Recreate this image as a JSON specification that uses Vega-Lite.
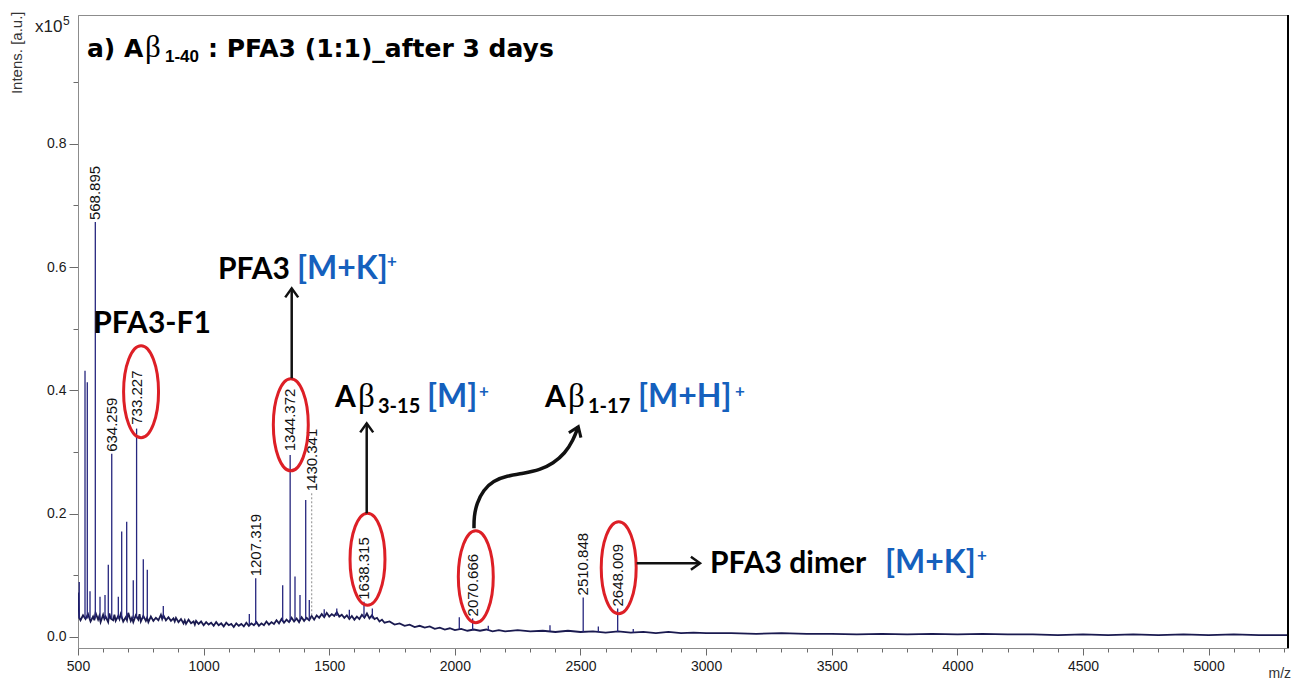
{
  "$schema": "https://vega.github.io/schema/vega-lite/v6.json",
  "width": 1210,
  "height": 633,
  "autosize": "none",
  "padding": {"left": 78, "top": 15, "right": 7, "bottom": 31},
  "background": "white",
  "config": {
    "view": {"stroke": "#8c8c8c", "strokeWidth": 1},
    "axis": {"grid": false, "labelFont": "Liberation Sans", "labelFontSize": 14, "labelColor": "#1a1a1a", "domainColor": "#8c8c8c", "tickColor": "#6a6a6a", "titleFont": "Liberation Sans", "titleFontWeight": "normal", "titleColor": "#333333"}
  },
  "datasets": {
    "baseline": [
      {"mz": 500, "I": 0.072}, {"mz": 505, "I": 0.031}, {"mz": 510, "I": 0.027}, {"mz": 520, "I": 0.035}, {"mz": 530, "I": 0.029}, {"mz": 540, "I": 0.037}, {"mz": 550, "I": 0.025}, {"mz": 560, "I": 0.033}, {"mz": 565, "I": 0.027}, {"mz": 570, "I": 0.039}, {"mz": 580, "I": 0.028}, {"mz": 585, "I": 0.034}, {"mz": 590, "I": 0.024}, {"mz": 600, "I": 0.036}, {"mz": 605, "I": 0.029}, {"mz": 610, "I": 0.033}, {"mz": 620, "I": 0.024}, {"mz": 625, "I": 0.038}, {"mz": 630, "I": 0.03}, {"mz": 640, "I": 0.027}, {"mz": 645, "I": 0.036}, {"mz": 650, "I": 0.026}, {"mz": 660, "I": 0.034}, {"mz": 665, "I": 0.029}, {"mz": 670, "I": 0.037}, {"mz": 680, "I": 0.025}, {"mz": 690, "I": 0.032}, {"mz": 695, "I": 0.027}, {"mz": 700, "I": 0.039}, {"mz": 710, "I": 0.026}, {"mz": 715, "I": 0.031}, {"mz": 720, "I": 0.024}, {"mz": 730, "I": 0.035}, {"mz": 740, "I": 0.028}, {"mz": 745, "I": 0.037}, {"mz": 750, "I": 0.025}, {"mz": 760, "I": 0.034}, {"mz": 770, "I": 0.026}, {"mz": 775, "I": 0.031}, {"mz": 780, "I": 0.024}, {"mz": 790, "I": 0.033}, {"mz": 800, "I": 0.026},
      {"mz": 810, "I": 0.031}, {"mz": 820, "I": 0.027}, {"mz": 830, "I": 0.036}, {"mz": 835, "I": 0.029}, {"mz": 840, "I": 0.035}, {"mz": 850, "I": 0.027}, {"mz": 860, "I": 0.032}, {"mz": 870, "I": 0.026}, {"mz": 880, "I": 0.03}, {"mz": 885, "I": 0.025}, {"mz": 890, "I": 0.031}, {"mz": 900, "I": 0.024}, {"mz": 910, "I": 0.029}, {"mz": 920, "I": 0.022}, {"mz": 925, "I": 0.027}, {"mz": 930, "I": 0.021}, {"mz": 940, "I": 0.028}, {"mz": 950, "I": 0.022}, {"mz": 960, "I": 0.025}, {"mz": 965, "I": 0.02}, {"mz": 970, "I": 0.026}, {"mz": 980, "I": 0.021}, {"mz": 990, "I": 0.025}, {"mz": 1000, "I": 0.019},
      {"mz": 1010, "I": 0.024}, {"mz": 1020, "I": 0.02}, {"mz": 1030, "I": 0.023}, {"mz": 1040, "I": 0.018}, {"mz": 1050, "I": 0.024}, {"mz": 1060, "I": 0.019}, {"mz": 1070, "I": 0.022}, {"mz": 1080, "I": 0.017}, {"mz": 1090, "I": 0.023}, {"mz": 1100, "I": 0.019}, {"mz": 1110, "I": 0.021}, {"mz": 1120, "I": 0.016}, {"mz": 1130, "I": 0.022}, {"mz": 1140, "I": 0.018}, {"mz": 1150, "I": 0.021}, {"mz": 1160, "I": 0.017}, {"mz": 1170, "I": 0.023}, {"mz": 1180, "I": 0.018}, {"mz": 1190, "I": 0.022}, {"mz": 1200, "I": 0.019}, {"mz": 1210, "I": 0.024}, {"mz": 1220, "I": 0.018}, {"mz": 1230, "I": 0.022}, {"mz": 1240, "I": 0.019}, {"mz": 1250, "I": 0.025}, {"mz": 1260, "I": 0.02}, {"mz": 1270, "I": 0.024}, {"mz": 1280, "I": 0.021}, {"mz": 1290, "I": 0.027}, {"mz": 1300, "I": 0.022}, {"mz": 1310, "I": 0.029}, {"mz": 1320, "I": 0.023}, {"mz": 1330, "I": 0.028}, {"mz": 1340, "I": 0.024}, {"mz": 1350, "I": 0.031}, {"mz": 1360, "I": 0.025}, {"mz": 1370, "I": 0.03}, {"mz": 1380, "I": 0.024}, {"mz": 1390, "I": 0.032}, {"mz": 1400, "I": 0.026}, {"mz": 1410, "I": 0.031}, {"mz": 1420, "I": 0.027}, {"mz": 1430, "I": 0.034}, {"mz": 1440, "I": 0.028}, {"mz": 1450, "I": 0.035}, {"mz": 1460, "I": 0.031}, {"mz": 1470, "I": 0.037}, {"mz": 1480, "I": 0.032}, {"mz": 1490, "I": 0.039}, {"mz": 1500, "I": 0.033}, {"mz": 1510, "I": 0.037}, {"mz": 1520, "I": 0.034}, {"mz": 1530, "I": 0.04}, {"mz": 1540, "I": 0.033}, {"mz": 1550, "I": 0.036}, {"mz": 1560, "I": 0.031}, {"mz": 1570, "I": 0.035}, {"mz": 1580, "I": 0.029}, {"mz": 1590, "I": 0.034}, {"mz": 1600, "I": 0.028}, {"mz": 1610, "I": 0.033}, {"mz": 1620, "I": 0.029}, {"mz": 1630, "I": 0.036}, {"mz": 1640, "I": 0.031}, {"mz": 1650, "I": 0.038}, {"mz": 1660, "I": 0.03}, {"mz": 1670, "I": 0.035}, {"mz": 1680, "I": 0.029}, {"mz": 1690, "I": 0.031}, {"mz": 1700, "I": 0.025}, {"mz": 1710, "I": 0.028}, {"mz": 1720, "I": 0.023}, {"mz": 1740, "I": 0.025}, {"mz": 1760, "I": 0.02}, {"mz": 1780, "I": 0.022}, {"mz": 1800, "I": 0.018}, {"mz": 1820, "I": 0.02}, {"mz": 1840, "I": 0.016}, {"mz": 1860, "I": 0.018}, {"mz": 1880, "I": 0.015}, {"mz": 1900, "I": 0.017}, {"mz": 1920, "I": 0.013}, {"mz": 1940, "I": 0.015}, {"mz": 1960, "I": 0.012}, {"mz": 1980, "I": 0.014}, {"mz": 2000, "I": 0.011},
      {"mz": 2025, "I": 0.013}, {"mz": 2050, "I": 0.01}, {"mz": 2075, "I": 0.012}, {"mz": 2100, "I": 0.01}, {"mz": 2125, "I": 0.012}, {"mz": 2150, "I": 0.009}, {"mz": 2175, "I": 0.011}, {"mz": 2200, "I": 0.009}, {"mz": 2250, "I": 0.011}, {"mz": 2300, "I": 0.009}, {"mz": 2350, "I": 0.01}, {"mz": 2400, "I": 0.008}, {"mz": 2450, "I": 0.01}, {"mz": 2500, "I": 0.008}, {"mz": 2550, "I": 0.009}, {"mz": 2600, "I": 0.007}, {"mz": 2650, "I": 0.009}, {"mz": 2700, "I": 0.007}, {"mz": 2750, "I": 0.008}, {"mz": 2800, "I": 0.006}, {"mz": 2850, "I": 0.008}, {"mz": 2900, "I": 0.006}, {"mz": 2950, "I": 0.007}, {"mz": 3000, "I": 0.006},
      {"mz": 3100, "I": 0.006}, {"mz": 3200, "I": 0.005}, {"mz": 3300, "I": 0.006}, {"mz": 3400, "I": 0.005}, {"mz": 3500, "I": 0.005}, {"mz": 3600, "I": 0.004}, {"mz": 3700, "I": 0.005}, {"mz": 3800, "I": 0.004}, {"mz": 3900, "I": 0.005}, {"mz": 4000, "I": 0.004}, {"mz": 4100, "I": 0.005}, {"mz": 4200, "I": 0.004}, {"mz": 4300, "I": 0.004}, {"mz": 4400, "I": 0.003}, {"mz": 4500, "I": 0.004}, {"mz": 4600, "I": 0.003}, {"mz": 4700, "I": 0.004}, {"mz": 4800, "I": 0.003}, {"mz": 4900, "I": 0.004}, {"mz": 5000, "I": 0.003}, {"mz": 5100, "I": 0.004}, {"mz": 5200, "I": 0.003}, {"mz": 5316, "I": 0.003}
    ],
    "peaks": [
      {"mz": 505, "I": 0.089, "I0": 0.03}, {"mz": 527.9, "I": 0.432, "I0": 0.03}, {"mz": 537, "I": 0.413, "I0": 0.03}, {"mz": 547.8, "I": 0.074, "I0": 0.03}, {"mz": 568.9, "I": 0.673, "I0": 0.03}, {"mz": 587.6, "I": 0.065, "I0": 0.03}, {"mz": 607.5, "I": 0.068, "I0": 0.03}, {"mz": 620.6, "I": 0.117, "I0": 0.03}, {"mz": 634.3, "I": 0.297, "I0": 0.03}, {"mz": 660.5, "I": 0.065, "I0": 0.03}, {"mz": 673.9, "I": 0.171, "I0": 0.03}, {"mz": 693.8, "I": 0.187, "I0": 0.03}, {"mz": 720, "I": 0.092, "I0": 0.03}, {"mz": 733.2, "I": 0.338, "I0": 0.03}, {"mz": 759.9, "I": 0.126, "I0": 0.03}, {"mz": 775.8, "I": 0.109, "I0": 0.03}, {"mz": 839.5, "I": 0.05, "I0": 0.03},
      {"mz": 1181.9, "I": 0.037, "I0": 0.02}, {"mz": 1207.3, "I": 0.095, "I0": 0.02}, {"mz": 1314.7, "I": 0.084, "I0": 0.024}, {"mz": 1344.4, "I": 0.295, "I0": 0.025}, {"mz": 1363.7, "I": 0.098, "I0": 0.027}, {"mz": 1383.6, "I": 0.068, "I0": 0.027}, {"mz": 1406.3, "I": 0.222, "I0": 0.028}, {"mz": 1420.6, "I": 0.06, "I0": 0.028}, {"mz": 1480, "I": 0.045, "I0": 0.033}, {"mz": 1530, "I": 0.046, "I0": 0.034}, {"mz": 1580, "I": 0.044, "I0": 0.032}, {"mz": 1638.3, "I": 0.057, "I0": 0.032}, {"mz": 1671.5, "I": 0.046, "I0": 0.03},
      {"mz": 2017.6, "I": 0.032, "I0": 0.012}, {"mz": 2070.7, "I": 0.03, "I0": 0.011}, {"mz": 2133, "I": 0.018, "I0": 0.01}, {"mz": 2378.6, "I": 0.019, "I0": 0.009}, {"mz": 2510.8, "I": 0.064, "I0": 0.008}, {"mz": 2571, "I": 0.017, "I0": 0.008}, {"mz": 2648, "I": 0.046, "I0": 0.008}, {"mz": 2710, "I": 0.013, "I0": 0.007}
    ],
    "dotted": [{"mz": 1430.3, "I": 0.233, "I0": 0.03}],
    "labels": [
      {"mz": 568.9, "I": 0.673, "text": "568.895"}, {"mz": 634.3, "I": 0.297, "text": "634.259"}, {"mz": 733.2, "I": 0.341, "text": "733.227"}, {"mz": 1207.3, "I": 0.095, "text": "1207.319"}, {"mz": 1344.4, "I": 0.298, "text": "1344.372"}, {"mz": 1430.3, "I": 0.233, "text": "1430.341"}, {"mz": 1638.3, "I": 0.057, "text": "1638.315"}, {"mz": 2070.7, "I": 0.03, "text": "2070.666"}, {"mz": 2510.8, "I": 0.064, "text": "2510.848"}, {"mz": 2648, "I": 0.046, "text": "2648.009"}
    ],
    "ellipses": [
      {"mz": 751, "I": 0.3978}, {"mz": 1347, "I": 0.3441}, {"mz": 1652.3, "I": 0.1261}, {"mz": 2083.3, "I": 0.0977}, {"mz": 2652.1, "I": 0.1121}
    ],
    "arrows": [
      {"seg": "a", "k": 1, "mz": 1350.6, "I": 0.4196}, {"seg": "a", "k": 2, "mz": 1350.6, "I": 0.5656},
      {"seg": "b", "k": 1, "mz": 1649.1, "I": 0.2005}, {"seg": "b", "k": 2, "mz": 1649.1, "I": 0.3466},
      {"seg": "c", "k": 1, "mz": 2723.7, "I": 0.1194}, {"seg": "c", "k": 2, "mz": 2975.7, "I": 0.1194}
    ],
    "curve": [
      {"k": 1, "mz": 2076.1, "I": 0.1762}, {"k": 2, "mz": 2076.1, "I": 0.195}, {"k": 3, "mz": 2086.9, "I": 0.2168}, {"k": 4, "mz": 2113.2, "I": 0.2383}, {"k": 5, "mz": 2153, "I": 0.2534}, {"k": 6, "mz": 2206.3, "I": 0.2611}, {"k": 7, "mz": 2272.4, "I": 0.2654}, {"k": 8, "mz": 2338.8, "I": 0.2708}, {"k": 9, "mz": 2391.8, "I": 0.2817}, {"k": 10, "mz": 2438.3, "I": 0.2979}, {"k": 11, "mz": 2471.4, "I": 0.3195}, {"k": 12, "mz": 2491.3, "I": 0.341}
    ],
    "head_up": [{"mz": 1350.6, "I": 0.5656}, {"mz": 1649.1, "I": 0.3466}],
    "head_right": [{"mz": 2975.7, "I": 0.1194}],
    "head_tilt": [{"mz": 2491.3, "I": 0.341}],
    "ann_bold": [
      {"mz": 560.9, "I": 0.4926, "text": "PFA3-F1"}, {"mz": 1057.2, "I": 0.5807, "text": "PFA3"}, {"mz": 1522.9, "I": 0.373, "text": "A"}, {"mz": 2358.7, "I": 0.373, "text": "A"}, {"mz": 3015.5, "I": 0.1042, "text": "PFA3 dimer"}
    ],
    "ann_beta": [{"mz": 1614.5, "I": 0.373, "text": "β"}, {"mz": 2450.3, "I": 0.373, "text": "β"}],
    "ann_sub": [{"mz": 1694, "I": 0.3633, "text": "3-15"}, {"mz": 2529.9, "I": 0.3633, "text": "1-17"}],
    "ann_blue": [
      {"mz": 1371.7, "I": 0.5807, "text": "[M+K]"}, {"mz": 1889.1, "I": 0.373, "text": "[M]"}, {"mz": 2728.9, "I": 0.373, "text": "[M+H]"}, {"mz": 3712, "I": 0.1042, "text": "[M+K]"}
    ],
    "ann_sup": [
      {"mz": 1729.9, "I": 0.6001, "text": "+"}, {"mz": 2096, "I": 0.3892, "text": "+"}, {"mz": 3115, "I": 0.3892, "text": "+"}, {"mz": 4078.2, "I": 0.1231, "text": "+"}
    ],
    "title_main": [{"mz": 535.8, "I": 0.9409, "text": "a) A"}, {"mz": 1017.5, "I": 0.9409, "text": ": PFA3 (1:1)_after 3 days"}],
    "title_beta": [{"mz": 766.7, "I": 0.9409, "text": "β"}],
    "title_sub": [{"mz": 846.3, "I": 0.9327, "text": "1-40"}],
    "yunit": [{"mz": 328.9, "I": 0.9814, "text": "x10"}],
    "yunit_sup": [{"mz": 440.3, "I": 0.9928, "text": "5"}],
    "frame": [{"mz": 5316, "I": 1.009, "I0": -0.018}]
  },
  "encoding": {
    "x": {
      "field": "mz", "type": "quantitative",
      "scale": {"domain": [500, 5316], "nice": false, "zero": false},
      "axis": {
        "values": [500, 600, 700, 800, 900, 1000, 1100, 1200, 1300, 1400, 1500, 1600, 1700, 1800, 1900, 2000, 2100, 2200, 2300, 2400, 2500, 2600, 2700, 2800, 2900, 3000, 3100, 3200, 3300, 3400, 3500, 3600, 3700, 3800, 3900, 4000, 4100, 4200, 4300, 4400, 4500, 4600, 4700, 4800, 4900, 5000, 5100, 5200, 5300],
        "format": "d",
        "labelExpr": "datum.value % 500 === 0 ? datum.label : ''",
        "tickSize": {"condition": {"test": "datum.value % 500 === 0", "value": 7}, "value": 4},
        "labelFlush": false, "labelOverlap": false, "labelPadding": 4,
        "title": "m/z", "titleX": 1190, "titleY": 29, "titleAlign": "left", "titleBaseline": "alphabetic", "titleFontSize": 14
      }
    },
    "y": {
      "field": "I", "type": "quantitative",
      "scale": {"domain": [-0.018, 1.009], "nice": false, "zero": false},
      "axis": {
        "values": [0, 0.1, 0.2, 0.3, 0.4, 0.5, 0.6, 0.7, 0.8, 0.9],
        "format": ".1f",
        "labelExpr": "round(datum.value * 10) % 2 === 0 ? datum.label : ''",
        "tickSize": {"condition": {"test": "round(datum.value * 10) % 2 === 0", "value": 9}, "value": 5},
        "labelOverlap": false, "labelFlush": false, "labelPadding": 3,
        "title": "Intens. [a.u.]", "titleAngle": 270, "titleX": -62, "titleY": -4, "titleAlign": "right", "titleBaseline": "middle", "titleFontSize": 15
      }
    }
  },
  "layer": [
    {"data": {"name": "baseline"}, "mark": {"type": "line", "color": "#1a1a50", "strokeWidth": 1.8, "clip": true}},
    {"data": {"name": "peaks"}, "mark": {"type": "rule", "color": "#26267e", "strokeWidth": 1.3}, "encoding": {"y2": {"field": "I0"}}},
    {"data": {"name": "dotted"}, "mark": {"type": "rule", "color": "#8a8a8a", "strokeWidth": 1, "strokeDash": [2, 2]}, "encoding": {"y2": {"field": "I0"}}},
    {"data": {"name": "labels"}, "mark": {"type": "text", "angle": 270, "align": "left", "baseline": "middle", "dx": 2, "font": "Liberation Sans", "fontSize": 15, "color": "#111111"}, "encoding": {"text": {"field": "text"}}},
    {"data": {"name": "ellipses"}, "mark": {"type": "point", "shape": "M0,-1C0.2099,-1 0.38,-0.5523 0.38,0C0.38,0.5523 0.2099,1 0,1C-0.2099,1 -0.38,0.5523 -0.38,0C-0.38,-0.5523 -0.2099,-1 0,-1Z", "size": 8464, "filled": false, "stroke": "#dd1f26", "strokeWidth": 3, "opacity": 1}},
    {"data": {"name": "arrows"}, "mark": {"type": "line", "color": "#111111", "strokeWidth": 2.5}, "encoding": {"detail": {"field": "seg"}, "order": {"field": "k"}}},
    {"data": {"name": "curve"}, "mark": {"type": "line", "color": "#111111", "strokeWidth": 3.5, "interpolate": "basis"}, "encoding": {"order": {"field": "k"}}},
    {"data": {"name": "head_up"}, "mark": {"type": "point", "shape": "M-1,1.4L0,0L1,1.4", "size": 169, "filled": false, "stroke": "#111111", "strokeWidth": 2.5, "opacity": 1}},
    {"data": {"name": "head_right"}, "mark": {"type": "point", "shape": "M-1,1.4L0,0L1,1.4", "size": 169, "filled": false, "stroke": "#111111", "strokeWidth": 2.5, "opacity": 1, "angle": 90}},
    {"data": {"name": "head_tilt"}, "mark": {"type": "point", "shape": "M-1,1.4L0,0L1,1.4", "size": 169, "filled": false, "stroke": "#111111", "strokeWidth": 3, "opacity": 1, "angle": 22}},
    {"data": {"name": "ann_bold"}, "mark": {"type": "text", "align": "left", "baseline": "alphabetic", "font": "Lato", "fontWeight": "bold", "fontSize": 30, "color": "#000000"}, "encoding": {"text": {"field": "text"}}},
    {"data": {"name": "ann_beta"}, "mark": {"type": "text", "align": "left", "baseline": "alphabetic", "font": "Liberation Serif", "fontSize": 33, "color": "#000000"}, "encoding": {"text": {"field": "text"}}},
    {"data": {"name": "ann_sub"}, "mark": {"type": "text", "align": "left", "baseline": "alphabetic", "font": "Lato", "fontWeight": "bold", "fontSize": 20, "color": "#000000"}, "encoding": {"text": {"field": "text"}}},
    {"data": {"name": "ann_blue"}, "mark": {"type": "text", "align": "left", "baseline": "alphabetic", "font": "Lato", "fontWeight": "bold", "fontSize": 32, "color": "#1560bd"}, "encoding": {"text": {"field": "text"}}},
    {"data": {"name": "ann_sup"}, "mark": {"type": "text", "align": "left", "baseline": "alphabetic", "font": "Lato", "fontWeight": "bold", "fontSize": 17, "color": "#1560bd"}, "encoding": {"text": {"field": "text"}}},
    {"data": {"name": "title_main"}, "mark": {"type": "text", "align": "left", "baseline": "alphabetic", "font": "DejaVu Sans", "fontWeight": "bold", "fontSize": 25, "color": "#000000"}, "encoding": {"text": {"field": "text"}}},
    {"data": {"name": "title_beta"}, "mark": {"type": "text", "align": "left", "baseline": "alphabetic", "font": "Liberation Serif", "fontSize": 31, "color": "#000000"}, "encoding": {"text": {"field": "text"}}},
    {"data": {"name": "title_sub"}, "mark": {"type": "text", "align": "left", "baseline": "alphabetic", "font": "Liberation Sans", "fontWeight": "bold", "fontSize": 17, "color": "#000000"}, "encoding": {"text": {"field": "text"}}},
    {"data": {"name": "yunit"}, "mark": {"type": "text", "align": "left", "baseline": "alphabetic", "font": "Liberation Sans", "fontSize": 17, "color": "#222222"}, "encoding": {"text": {"field": "text"}}},
    {"data": {"name": "yunit_sup"}, "mark": {"type": "text", "align": "left", "baseline": "alphabetic", "font": "Liberation Sans", "fontSize": 12, "color": "#222222"}, "encoding": {"text": {"field": "text"}}},
    {"data": {"name": "frame"}, "mark": {"type": "rule", "color": "#000000", "strokeWidth": 2}, "encoding": {"y2": {"field": "I0"}}}
  ]
}
